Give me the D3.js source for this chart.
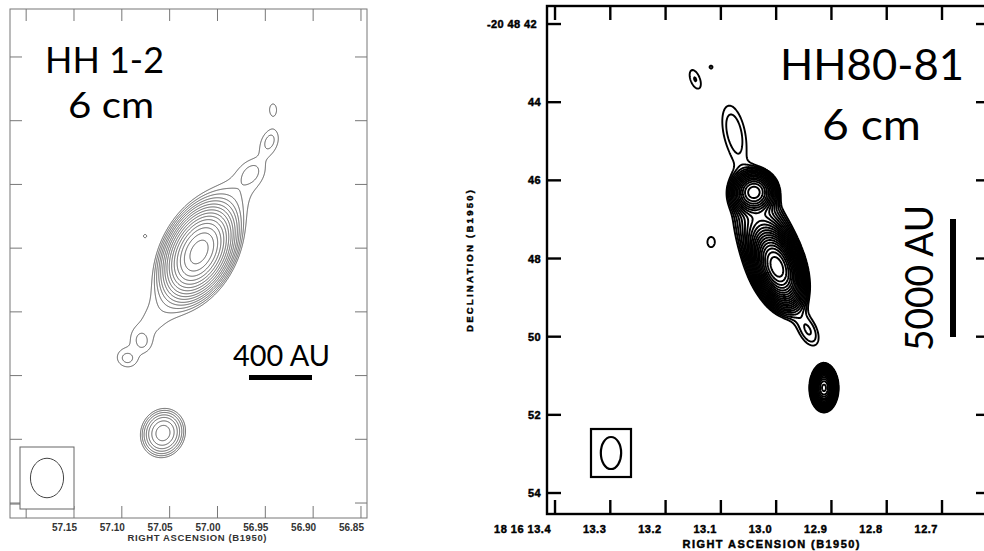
<!DOCTYPE html>
<html>
<head>
<meta charset="utf-8">
<script src="https://cdn.jsdelivr.net/npm/d3@7"></script>
<style>
  body { margin: 0; background: #fff; }
</style>
</head>
<body>
<div id="chart-area"></div>
<script>
// ---------------- data ----------------
// HH 1-2, 6 cm.  RA in seconds of 5h33m, Dec as arcsec offset
var raTicksL = [57.20, 57.15, 57.10, 57.05, 57.00, 56.95, 56.90, 56.85]
var raLabelsL = ["", "57.15", "57.10", "57.05", "57.00", "56.95", "56.90", "56.85"]
var decTicksL = [4, 3, 2, 1, 0, -1, -2, -3]

// source components: RA, Dec, peak, sigma major ("), sigma minor ("), PA (deg)
var hh12Ra   = [57.0193, 56.9890, 57.0653, 56.9639, 57.0789, 57.0946, 56.9451, 56.9420, 57.0758, 57.0570]
var hh12Dec  = [0.939,   1.720,   -0.097,  2.195,   -0.473,  -0.740,  2.697,   3.184,   1.190,   -1.902]
var hh12Peak = [1,       0.0150,  0.0132,  0.0075,  0.0075,  0.0105,  0.0135,  0.0135,  0.0125,  0.09]
var hh12Maj  = [0.32,    0.80,    0.75,    0.16,    0.13,    0.13,    0.18,    0.13,    0.055,   0.195]
var hh12Min  = [0.198,   0.32,    0.32,    0.13,    0.10,    0.11,    0.115,   0.08,    0.055,   0.172]
var hh12Pa   = [-27,     -40,     -38,     -40,     20,      70,      -20,     0,       0,       -20]
var hh12Levels = [0.012, 0.0163, 0.022, 0.030, 0.040, 0.055, 0.074, 0.100, 0.136, 0.184, 0.249, 0.337, 0.456, 0.618, 0.836]
var beamL = [0.26, 0.31]   // beam half-axes (")

// HH 80-81, 6 cm.  RA in seconds of 18h16m, Dec arcsec of -20 48
var raTicksR = [13.4, 13.3, 13.2, 13.1, 13.0, 12.9, 12.8, 12.7]
var raLabelsR = ["18 16 13.4", "13.3", "13.2", "13.1", "13.0", "12.9", "12.8", "12.7"]
var decTicksR = [42, 44, 46, 48, 50, 52, 54]
var decLabelsR = ["-20 48 42", "44", "46", "48", "50", "52", "54"]

var hh80Ra   = [12.9985, 13.0401, 13.0148, 13.0762, 12.9406, 12.9135, 13.1468, 13.1178, 13.1178]
var hh80Dec  = [48.22,   46.30,   47.655,  44.75,   49.88,   51.31,   43.41,   43.10,   47.58]
var hh80Peak = [1,       0.25,    0.06,    0.0148,  0.0148,  0.6,     0.0125,  0.011,   0.012]
var hh80Maj  = [0.42,    0.24,    0.90,    0.76,    0.40,    0.22,    0.36,    0.06,    0.21]
var hh80Min  = [0.23,    0.25,    0.38,    0.30,    0.22,    0.13,    0.17,    0.06,    0.15]
var hh80Pa   = [20,      20,      20,      12,      25,      0,       20,      0,       0]
var hh80Levels = d3.range(23).map(function (k) { return 0.01 * Math.pow(1.25, k) })
var beamR = [0.26, 0.41]

// ---------------- chart ----------------
var width = 984
var height = 551
var svg = d3.select("#chart-area")
  .append("svg")
  .attr("width", width)
  .attr("height", height)

function comps(ra, dec, peak, maj, min, pa) {
  return ra.map(function (r, i) {
    return { ra: r, dec: dec[i], peak: peak[i], maj: maj[i], min: min[i], pa: pa[i] * Math.PI / 180 }
  })
}

// sum of elliptical gaussians on a grid laid over the RA/Dec domain
function contourPanel(g, x, y, list, levels, cosd, northSign, style) {
  var rx = x.domain(), ry = y.domain()
  var nx = Math.round(Math.abs(x.range()[1] - x.range()[0]))
  var ny = Math.round(Math.abs(y.range()[1] - y.range()[0]))
  var dRa = (rx[1] - rx[0]) / nx, dDec = (ry[1] - ry[0]) / ny
  var vals = new Float64Array(nx * ny)
  for (var j = 0; j < ny; j++) {
    var dec = ry[0] + (j + 0.5) * dDec
    for (var i = 0; i < nx; i++) {
      var ra = rx[0] + (i + 0.5) * dRa
      var v = 0
      list.forEach(function (c) {
        var e = (ra - c.ra) * 15 * cosd
        var n = (dec - c.dec) * northSign
        var u = e * Math.sin(c.pa) + n * Math.cos(c.pa)
        var w = e * Math.cos(c.pa) - n * Math.sin(c.pa)
        v += c.peak * Math.exp(-0.5 * (u * u / (c.maj * c.maj) + w * w / (c.min * c.min)))
      })
      vals[j * nx + i] = v
    }
  }
  var tr = d3.geoTransform({
    point: function (gx, gy) {
      this.stream.point(x(rx[0] + gx * dRa), y(ry[0] + gy * dDec))
    }
  })
  var path = d3.geoPath(tr)
  var contours = d3.contours().size([nx, ny]).thresholds(levels)(vals)
  g.selectAll("path.contour")
    .data(contours)
    .enter().append("path")
    .attr("class", "contour")
    .attr("d", path)
    .attr("fill", "none")
    .attr("stroke", style.color)
    .attr("stroke-width", style.width)
    .attr("stroke-linejoin", "round")
}

function frameTicks(g, x, y, raTicks, decTicks, len, color, sw) {
  var x0 = x.range()[0], x1 = x.range()[1], y0 = y.range()[0], y1 = y.range()[1]
  raTicks.forEach(function (t) {
    g.append("line").attr("x1", x(t)).attr("x2", x(t)).attr("y1", y0).attr("y2", y0 + len)
      .attr("stroke", color).attr("stroke-width", sw)
    g.append("line").attr("x1", x(t)).attr("x2", x(t)).attr("y1", y1).attr("y2", y1 - len)
      .attr("stroke", color).attr("stroke-width", sw)
  })
  decTicks.forEach(function (t) {
    g.append("line").attr("x1", x0).attr("x2", x0 + len).attr("y1", y(t)).attr("y2", y(t))
      .attr("stroke", color).attr("stroke-width", sw)
    g.append("line").attr("x1", x1).attr("x2", x1 - len).attr("y1", y(t)).attr("y2", y(t))
      .attr("stroke", color).attr("stroke-width", sw)
  })
  g.append("rect")
    .attr("x", x0).attr("y", y0)
    .attr("width", x1 - x0).attr("height", y1 - y0)
    .attr("fill", "none").attr("stroke", color).attr("stroke-width", sw)
}

function bigText(g, x, y, size, len, txt) {
  return g.append("text").attr("x", x).attr("y", y)
    .attr("font-family", "Lato, sans-serif").attr("font-size", size + "px")
    .attr("textLength", len).attr("lengthAdjust", "spacingAndGlyphs")
    .style("fill", "#000").text(txt)
}

// ---------- left panel: HH 1-2 ----------
var xL = d3.scaleLinear().domain([57.2169, 56.8437]).range([10, 367])
var yL = d3.scaleLinear().domain([4.753, -3.235]).range([9, 518])
var pxPerArcL = yL(0) - yL(1)

var gL = svg.append("g")
svg.append("clipPath").attr("id", "clipL").append("rect")
  .attr("x", 10).attr("y", 9).attr("width", 357).attr("height", 509)
var cL = gL.append("g").attr("clip-path", "url(#clipL)")
contourPanel(cL, xL, yL, comps(hh12Ra, hh12Dec, hh12Peak, hh12Maj, hh12Min, hh12Pa),
  hh12Levels, Math.cos(6.8 * Math.PI / 180), 1, { color: "#4a4a4a", width: 0.9 })

frameTicks(gL, xL, yL, raTicksL, decTicksL, 12, "#777", 1)

// beam box
gL.append("rect").attr("x", 20).attr("y", 447).attr("width", 54).attr("height", 62)
  .attr("fill", "#fff").attr("stroke", "#666").attr("stroke-width", 1)
gL.append("line").attr("x1", 10).attr("x2", 20).attr("y1", 504).attr("y2", 504)
  .attr("stroke", "#666").attr("stroke-width", 1)
gL.append("ellipse").attr("cx", 47).attr("cy", 478)
  .attr("rx", beamL[0] * pxPerArcL).attr("ry", beamL[1] * pxPerArcL)
  .attr("fill", "none").attr("stroke", "#444").attr("stroke-width", 1)

gL.selectAll("text.ra")
  .data(raTicksL)
  .enter().append("text")
  .attr("class", "ra")
  .attr("x", function (d) { return xL(d) + 3 })
  .attr("y", 531)
  .attr("text-anchor", "end")
  .attr("font-family", "Liberation Sans, Arial, sans-serif")
  .attr("font-weight", "bold")
  .attr("font-size", "10px")
  .style("fill", "#333")
  .text(function (d, i) { return raLabelsL[i] })

gL.append("text")
  .attr("x", 197).attr("y", 541)
  .attr("text-anchor", "middle")
  .attr("font-family", "Liberation Sans, Arial, sans-serif")
  .attr("font-weight", "bold")
  .attr("font-size", "9.5px")
  .attr("textLength", 139)
  .style("fill", "#333")
  .text("RIGHT ASCENSION (B1950)")

bigText(gL, 45, 73, 36, 119, "HH 1-2")
bigText(gL, 68, 118, 36, 86, "6 cm")
bigText(gL, 233, 366, 29, 97, "400 AU")
gL.append("rect").attr("x", 249).attr("y", 375).attr("width", 63).attr("height", 5).attr("fill", "#000")

// ---------- right panel: HH 80-81 ----------
var xR = d3.scaleLinear().domain([13.4145, 12.6132]).range([547, 990])
var yR = d3.scaleLinear().domain([41.539, 54.537]).range([6, 514])
var pxPerArcR = yR(1) - yR(0)

var gR = svg.append("g")
svg.append("clipPath").attr("id", "clipR").append("rect")
  .attr("x", 547).attr("y", 6).attr("width", 443).attr("height", 508)
var cR = gR.append("g").attr("clip-path", "url(#clipR)")
contourPanel(cR, xR, yR, comps(hh80Ra, hh80Dec, hh80Peak, hh80Maj, hh80Min, hh80Pa),
  hh80Levels, Math.cos(20.8 * Math.PI / 180), -1, { color: "#000", width: 1.9 })

frameTicks(gR, xR, yR, raTicksR, decTicksR, 14, "#000", 2.4)

gR.append("rect").attr("x", 591).attr("y", 429).attr("width", 40).attr("height", 48)
  .attr("fill", "none").attr("stroke", "#000").attr("stroke-width", 2.2)
gR.append("ellipse").attr("cx", 611).attr("cy", 453)
  .attr("rx", beamR[0] * pxPerArcR).attr("ry", beamR[1] * pxPerArcR)
  .attr("fill", "none").attr("stroke", "#000").attr("stroke-width", 2.2)

var heavy = function (sel, size) {
  sel.attr("font-family", "Liberation Sans, Arial, sans-serif")
    .attr("font-weight", "bold")
    .attr("font-size", size + "px")
    .style("fill", "#000")
    .style("stroke", "#000")
    .style("stroke-width", "0.45px")
}

heavy(gR.selectAll("text.ra")
  .data(raTicksR)
  .enter().append("text")
  .attr("class", "ra")
  .attr("x", function (d) { return xR(d) - 4 })
  .attr("y", 533)
  .attr("text-anchor", "end")
  .attr("letter-spacing", "0.5px")
  .text(function (d, i) { return raLabelsR[i] }), 11)

heavy(gR.selectAll("text.dec")
  .data(decTicksR)
  .enter().append("text")
  .attr("class", "dec")
  .attr("x", function (d, i) { return i === 0 ? 537 : 541 })
  .attr("y", function (d) { return yR(d) + 4 })
  .attr("text-anchor", "end")
  .attr("letter-spacing", "0.4px")
  .text(function (d, i) { return decLabelsR[i] }), 11)

heavy(gR.append("text")
  .attr("x", 771).attr("y", 548)
  .attr("text-anchor", "middle")
  .attr("textLength", 177)
  .text("RIGHT ASCENSION (B1950)"), 11)

heavy(gR.append("text")
  .attr("transform", "translate(473, 261) rotate(-90)")
  .attr("text-anchor", "middle")
  .attr("textLength", 142)
  .text("DECLINATION (B1950)"), 9.5)

bigText(gR, 780, 80, 42, 184, "HH80-81")
bigText(gR, 822, 140, 42, 99, "6 cm")
gR.append("text")
  .attr("transform", "translate(933, 278) rotate(-90)")
  .attr("text-anchor", "middle")
  .attr("font-family", "Lato, sans-serif").attr("font-size", "38px")
  .attr("textLength", 146).attr("lengthAdjust", "spacingAndGlyphs")
  .style("fill", "#000").text("5000 AU")
gR.append("rect").attr("x", 950).attr("y", 219).attr("width", 6).attr("height", 118).attr("fill", "#000")
</script>
</body>
</html>
